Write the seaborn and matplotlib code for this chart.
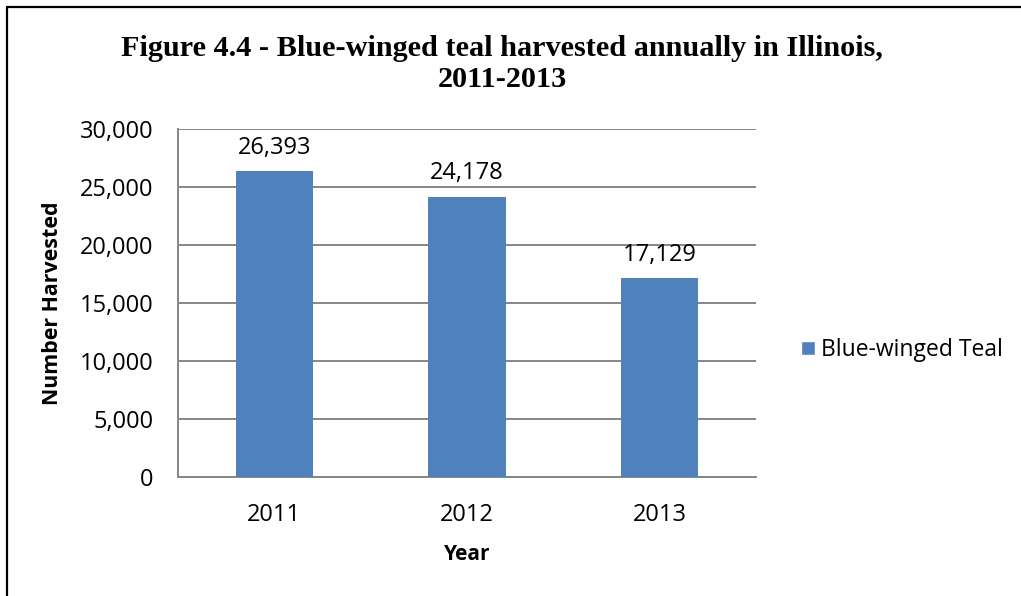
import matplotlib
matplotlib.use("Agg")
import matplotlib.pyplot as plt
import seaborn as sns
import pandas as pd
from matplotlib.lines import Line2D
from matplotlib.patches import Patch
from matplotlib.ticker import FuncFormatter, MultipleLocator

years = ["2011", "2012", "2013"]
harvest = [26393, 24178, 17129]
series_name = "Blue-winged Teal"
title = "Figure 4.4 - Blue-winged teal harvested annually in Illinois,\n2011-2013"

df = pd.DataFrame({"Year": years, "Harvest": harvest})

sns.set_theme(style="white")
plt.rcParams["font.family"] = ["Open Sans", "DejaVu Sans"]
plt.rcParams["text.color"] = "black"

W, H = 1021, 596
fig = plt.figure(figsize=(W / 100, H / 100), dpi=100)
ax = fig.add_axes([178 / W, 1 - 477 / H, (756 - 178) / W, (477 - 129) / H])

bar_color = "#4F81BD"
grid_color = "#868686"

sns.barplot(data=df, x="Year", y="Harvest", color=bar_color, width=0.4,
            saturation=1, ax=ax, zorder=3, edgecolor="none")

ax.set_ylim(0, 30000)
ax.yaxis.set_major_locator(MultipleLocator(5000))
ax.yaxis.set_major_formatter(FuncFormatter(lambda v, p: f"{int(v):,}"))
ax.grid(axis="y", color=grid_color, linewidth=1.4, zorder=0)
ax.set_axisbelow(True)

for s in ["top", "right"]:
    ax.spines[s].set_visible(False)
for s in ["left", "bottom"]:
    ax.spines[s].set_color(grid_color)
    ax.spines[s].set_linewidth(1.4)

ax.tick_params(axis="both", length=0, labelsize=17, colors="black")
ax.tick_params(axis="y", pad=17.5)
ax.tick_params(axis="x", pad=19)

for c in ax.containers:
    ax.bar_label(c, labels=[f"{v:,}" for v in harvest], padding=8, fontsize=17,
                 color="black")

ax.set_xlabel("Year", fontsize=15, fontweight="bold", labelpad=12, color="black")
ax.set_ylabel("Number Harvested", fontsize=15.4, fontweight="bold", labelpad=12,
              color="black")

fig.text(502 / W, 1 - 64 / H, title, ha="center", va="center", color="black",
         family="Liberation Serif", fontweight="bold", fontsize=21.8, linespacing=1.18)

leg = fig.legend(handles=[Patch(facecolor=bar_color, label=series_name)],
                 loc="center left", bbox_to_anchor=(792 / W, 1 - 350 / H),
                 frameon=False, fontsize=16.5, handlelength=0.6, handleheight=0.6,
                 handletextpad=0.25, borderaxespad=0)
for t in leg.get_texts():
    t.set_color("black")

fig.add_artist(Line2D([7 / W, 7 / W], [0, 1 - 7 / H], color="black", linewidth=1.6))
fig.add_artist(Line2D([7 / W, 1], [1 - 7 / H, 1 - 7 / H], color="black", linewidth=1.6))

fig.savefig("out.png", dpi=100, facecolor="white")
